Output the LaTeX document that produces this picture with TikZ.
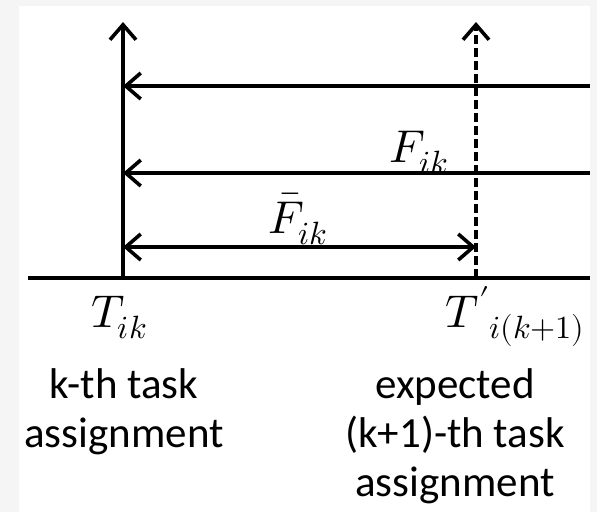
\documentclass[tikz,border=0pt]{standalone}
\usepackage{fontspec}
\usepackage{unicode-math}
\setmainfont{Carlito}
\setmathfont{Latin Modern Math}
\usetikzlibrary{arrows.meta}
\begin{document}
\begin{tikzpicture}[x=1pt,y=-1pt,
  axisline/.style={line width=4pt},
  barbtip/.style={-{Straight Barb[length=15pt,width=26pt,line width=3.6pt]}},
  bothtip/.style={{Straight Barb[length=15pt,width=26pt,line width=3.6pt]}-{Straight Barb[length=15pt,width=26pt,line width=3.6pt]}},
  dashline/.style={line width=3.6pt,dash pattern=on 9pt off 4pt},
  mathlabel/.style={inner sep=0pt,anchor=base,font=\fontsize{46}{50}\selectfont},
  textlabel/.style={inner sep=0pt,anchor=base,align=center,font=\fontsize{43}{49}\selectfont}]
\useasboundingbox (0,0) rectangle (597,512);
\fill[gray!8] (0,0) rectangle (597,512);
\fill[white] (19,6) rectangle (590,512);
% coordinates
\coordinate (o) at (123,278);
\coordinate (otop) at (123,22);
\coordinate (d) at (476,278);
\coordinate (dtop) at (476,22);
\coordinate (bl) at (28,278);
\coordinate (br) at (590,278);
\coordinate (r1) at (590,86);
\coordinate (l1) at (123,86);
\coordinate (r2) at (590,173);
\coordinate (l2) at (123,173);
\coordinate (l3) at (123,247);
\coordinate (r3) at (476,247);
% lines
\draw[axisline] (bl) -- (br);
\draw[axisline,barbtip] (o) -- (otop);
\draw[dashline,barbtip] (d) -- (dtop);
\draw[axisline,barbtip] (r1) -- (l1);
\draw[axisline,barbtip] (r2) -- (l2);
\draw[axisline,bothtip] (l3) -- (r3);
% labels
\node[mathlabel] (fik) at (419,162) {$F_{ik}$};
\node[mathlabel] (fbar) at (298,233) {$\bar{F}_{ik}$};
\node[mathlabel] (tik) at (119,327) {$T_{ik}$};
\node[mathlabel] (tp) at (515,327) {${T'}_{i(k+1)}$};
% multi-line labels: base anchor is the last line's baseline
\node[textlabel] (lt) at (124,447) {k-th task\\assignment};
\node[textlabel] (rt) at (455,496) {expected\\(k+1)-th task\\assignment};
\end{tikzpicture}
\end{document}
